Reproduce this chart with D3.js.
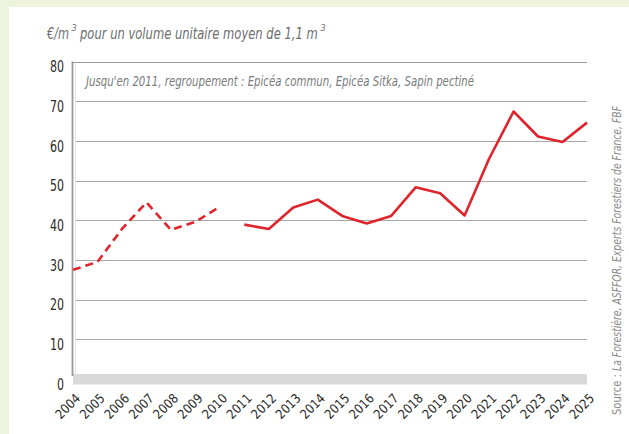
<!DOCTYPE html>
<html><head><meta charset="utf-8">
<script src="https://cdn.jsdelivr.net/npm/d3@7"></script>
<style>
html,body{margin:0;padding:0;background:#fff;}
text{font-family:"DejaVu Sans Condensed","DejaVu Sans",sans-serif;font-stretch:condensed;}
</style></head>
<body>
<script>
const yearsDashed = [2004,2005,2006,2007,2008,2009,2010];
const valuesDashed = [27.5,29.5,37.8,44.5,37.6,39.6,43.4];
const yearsSolid = [2011,2012,2013,2014,2015,2016,2017,2018,2019,2020,2021,2022,2023,2024,2025];
const valuesSolid = [38.9,37.8,43.2,45.2,41.1,39.2,41.1,48.3,46.8,41.2,55.5,67.4,61.1,59.7,64.6];
const yTicks = [0,10,20,30,40,50,60,70,80];
const xTickYears = d3.range(2004,2026);
const title = "pour un volume unitaire moyen de 1,1 m";
const note = "Jusqu'en 2011, regroupement : Epicéa commun, Epicéa Sitka, Sapin pectiné";

const W=629,H=434;
const svg=d3.select("body").append("svg").attr("width",W).attr("height",H);
svg.append("rect").attr("width",W).attr("height",H).attr("fill","#eef3dd");
svg.append("rect").attr("x",9).attr("y",7).attr("width",W-9).attr("height",H-7).attr("fill","#fff");

const x=d3.scaleLinear().domain([2004,2025]).range([73,587]);
const y=d3.scaleLinear().domain([0,80]).range([379,61.5]);

// floor
svg.append("rect").attr("x",73).attr("y",374).attr("width",514).attr("height",10.5).attr("fill","#d9d9d9");
// gridlines
svg.append("g").selectAll("line").data(yTicks.filter(d=>d>0)).join("line")
  .attr("x1",d=>d===80?73:75).attr("x2",587).attr("y1",d=>Math.round(y(d))+0.5).attr("y2",d=>Math.round(y(d))+0.5)
  .attr("stroke",d=>d===80?"#9a9a9a":"#a8a8a8").attr("stroke-width",1.2);
// wall lines
svg.append("line").attr("x1",72.5).attr("x2",72.5).attr("y1",61.5).attr("y2",376).attr("stroke","#9a9a9a").attr("stroke-width",1.8);
svg.append("line").attr("x1",75.5).attr("x2",75.5).attr("y1",64).attr("y2",374).attr("stroke","#e6e6e6").attr("stroke-width",1);

// y axis labels
const yAxis=d3.axisLeft(y).tickValues(yTicks).tickSize(0).tickPadding(0);
const gy=svg.append("g").attr("transform","translate(64,5)").call(yAxis);
gy.select(".domain").remove();
gy.selectAll("text").attr("font-size",16).attr("fill","#2a2a2a")
  .attr("textLength",d=>d===0?7:14).attr("lengthAdjust","spacingAndGlyphs")
  .style("font-family",'"DejaVu Sans Condensed",sans-serif');

// x axis labels rotated -45deg
const gx=svg.append("g");
gx.selectAll("text").data(xTickYears).join("text")
  .attr("transform",d=>`translate(${x(d)+5},396) rotate(-45)`)
  .attr("text-anchor","end").attr("dy","0.35em")
  .attr("font-size",13).attr("fill","#2a2a2a")
  .attr("textLength",29).attr("lengthAdjust","spacingAndGlyphs")
  .text(d=>d);

// lines
const line=d3.line().x(d=>x(d[0])).y(d=>y(d[1]));
svg.append("path").datum(yearsDashed.map((d,i)=>[d,valuesDashed[i]]))
  .attr("d",line).attr("fill","none").attr("stroke","#e0242c").attr("stroke-width",2.6)
  .attr("stroke-dasharray","8,5").attr("stroke-linejoin","round");
svg.append("path").datum(yearsSolid.map((d,i)=>[d,valuesSolid[i]]))
  .attr("d",line).attr("fill","none").attr("stroke","#e0242c").attr("stroke-width",2.6).attr("stroke-linejoin","round");

// title: pieces scaled horizontally to fit measured target widths
const tcol="#6e6e6e";
function fitText(str,x0,y0,size,target){
  const t=svg.append("text").attr("x",0).attr("y",0).attr("font-size",size).attr("fill",tcol)
    .attr("font-style","italic").text(str);
  const len=t.node().getComputedTextLength()||target;
  const k=Math.min(1,target/len);
  t.attr("transform",`translate(${x0},${y0}) scale(${k},1)`);
  return t;
}
fitText("€/m",47,39,15,22);
svg.append("text").attr("x",71.5).attr("y",31).attr("font-size",9).attr("fill",tcol).attr("font-style","italic").text("3");
fitText(title,80,39,15,238);
svg.append("text").attr("x",320.5).attr("y",31).attr("font-size",9).attr("fill",tcol).attr("font-style","italic").text("3");

svg.append("text").attr("x",86).attr("y",86).attr("font-size",13.5).attr("fill","#7a7a7a").attr("font-style","italic")
  .attr("textLength",388).attr("lengthAdjust","spacingAndGlyphs").text(note);

// source
const s=svg.append("text").attr("transform","translate(621,415) rotate(-90)").attr("font-size",13).attr("fill","#8a8a8a");
s.append("tspan").text("Source : ").attr("textLength",44).attr("lengthAdjust","spacingAndGlyphs");
s.append("tspan").attr("font-style","italic").attr("textLength",265).attr("lengthAdjust","spacingAndGlyphs")
  .text("La Forestière, ASFFOR, Experts Forestiers de France, FBF");
</script>
</body></html>
